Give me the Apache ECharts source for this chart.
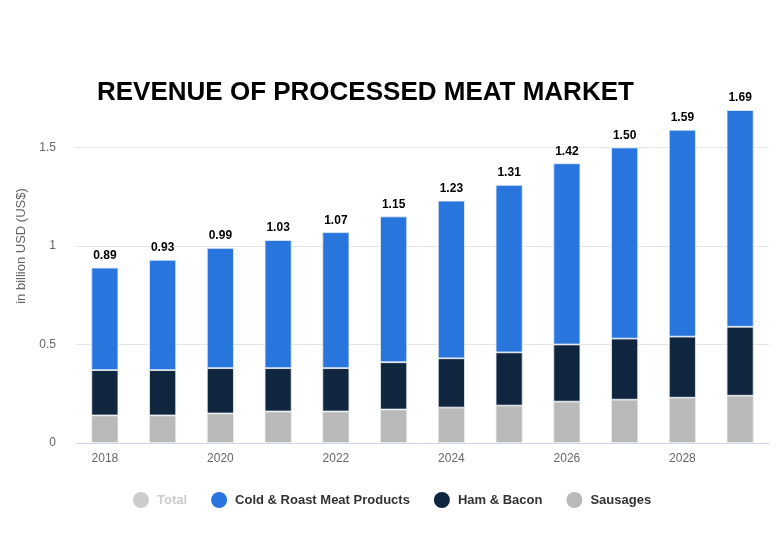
<!DOCTYPE html>
<html><head><meta charset="utf-8">
<script src="https://cdn.jsdelivr.net/npm/echarts@6/dist/echarts.min.js"></script>
<style>html,body{margin:0;padding:0;background:#fff}#c{width:778px;height:537px}</style>
</head><body><div id="c"></div>
<script>
const years = ['2018','2019','2020','2021','2022','2023','2024','2025','2026','2027','2028','2029'];
const totals = [0.89,0.93,0.99,1.03,1.07,1.15,1.23,1.31,1.42,1.50,1.59,1.69];
const sausages = [0.14,0.14,0.15,0.16,0.16,0.17,0.18,0.19,0.21,0.22,0.23,0.24];
const hamBacon = [0.23,0.23,0.23,0.22,0.22,0.24,0.25,0.27,0.29,0.31,0.31,0.35];
const coldRoast = [0.52,0.56,0.61,0.65,0.69,0.74,0.80,0.85,0.92,0.97,1.05,1.10];
const yTicks = [0, 0.5, 1, 1.5];

const chart = echarts.init(document.getElementById('c'));
const font = 'Liberation Sans, Arial, sans-serif';
chart.setOption({
  animation: false,
  title: { text: 'REVENUE OF PROCESSED MEAT MARKET', left: 92, top: 75,
    textStyle: { fontFamily: font, fontSize: 26, fontWeight: 'bold', color: '#000' } },
  legend: {
    bottom: 24, left: 128, itemGap: 24, icon: 'circle', itemWidth: 16, itemHeight: 16,
    itemStyle: { borderWidth: 0 },
    textStyle: { fontFamily: font, fontSize: 13, fontWeight: 'bold', color: '#333', padding: [0, 0, 0, 3] },
    inactiveColor: '#ccc', inactiveBorderWidth: 0,
    selected: { 'Total': false },
    data: ['Total', 'Cold & Roast Meat Products', 'Ham & Bacon', 'Sausages']
  },
  grid: { left: 76, right: 9, top: 49, bottom: 94 },
  xAxis: {
    type: 'category', data: years,
    axisLine: { lineStyle: { color: '#ccd6eb' } },
    axisTick: { alignWithLabel: true, interval: 1, length: 6, lineStyle: { color: '#ccd6eb' } },
    axisLabel: { interval: 1, color: '#666', fontFamily: font, fontSize: 12, margin: 10 }
  },
  yAxis: {
    type: 'value', min: 0, max: 2, interval: 0.5,
    name: 'in billion USD (US$)', nameLocation: 'middle', nameGap: 47,
    nameTextStyle: { color: '#666', fontFamily: font, fontSize: 13 },
    axisLabel: { color: '#666', fontFamily: font, fontSize: 12, margin: 20, showMaxLabel: false,
      formatter: v => yTicks.indexOf(v) >= 0 ? String(v) : '' },
    splitLine: { showMaxLine: false, lineStyle: { color: '#e6e6e6' } }
  },
  series: [
    { name: 'Total', type: 'bar', stack: 'x', data: [] , itemStyle: { color: '#cccccc' } },
    { name: 'Sausages', type: 'bar', stack: 's', data: sausages, barWidth: 27,
      itemStyle: { color: '#b9b9b9', borderColor: '#e8edf3', borderWidth: 0.8 } },
    { name: 'Ham & Bacon', type: 'bar', stack: 's', data: hamBacon,
      itemStyle: { color: '#10263f', borderColor: '#e8edf3', borderWidth: 0.8 } },
    { name: 'Cold & Roast Meat Products', type: 'bar', stack: 's', data: coldRoast,
      itemStyle: { color: '#2876dd', borderColor: '#e8edf3', borderWidth: 0.8 },
      label: { show: true, position: 'top', distance: 6, color: '#000', fontFamily: font,
        fontSize: 12, fontWeight: 'bold', formatter: p => totals[p.dataIndex].toFixed(2) } }
  ]
});
</script></body></html>
